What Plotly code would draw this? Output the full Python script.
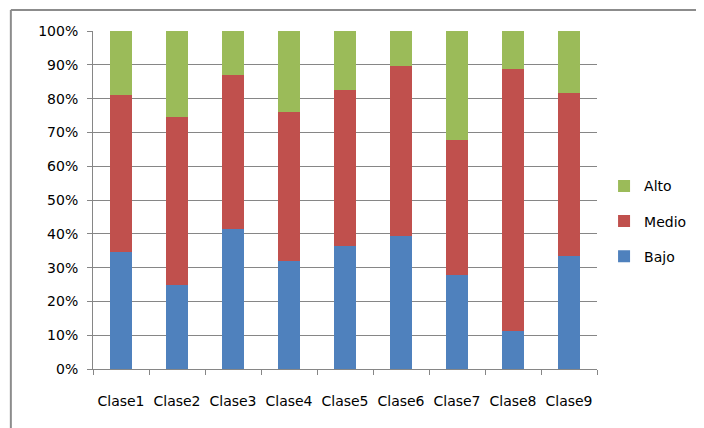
import plotly.graph_objects as go

categories = ["Clase1", "Clase2", "Clase3", "Clase4", "Clase5", "Clase6", "Clase7", "Clase8", "Clase9"]
bajo = [34.6, 25.0, 41.5, 32.0, 36.4, 39.4, 27.7, 11.1, 33.3]
medio = [46.6, 49.6, 45.4, 43.9, 46.1, 50.2, 40.0, 77.6, 48.3]
alto = [18.8, 25.4, 13.1, 24.1, 17.5, 10.4, 32.3, 11.3, 18.4]
y_ticks = [0, 10, 20, 30, 40, 50, 60, 70, 80, 90, 100]

series = [("Bajo", bajo, "#4F81BD", 3), ("Medio", medio, "#C0504D", 2), ("Alto", alto, "#9BBB59", 1)]

fig = go.Figure()
for name, vals, color, rank in series:
    fig.add_trace(go.Bar(x=categories, y=vals, name=name, marker_color=color,
                         marker_line_width=0, legendgroup=name, legendrank=rank))

font = dict(family="DejaVu Sans, Verdana, sans-serif", size=14, color="#000000")

fig.update_layout(
    width=704, height=428,
    barmode="stack", barnorm="percent", bargap=0.59,
    paper_bgcolor="white", plot_bgcolor="white",
    margin=dict(l=85, r=115, t=23, b=67),
    font=font,
    showlegend=True,
    legend=dict(x=1.014, y=0.437, xanchor="left", yanchor="middle",
                traceorder="grouped", tracegroupgap=14,
                font=dict(size=14), bgcolor="rgba(0,0,0,0)"),
    xaxis=dict(showline=True, linecolor="#868686", linewidth=1,
               ticks="outside", ticklen=5, tickcolor="#868686",
               tickson="boundaries", showgrid=False, tickangle=0,
               ticklabelstandoff=19,
               tickfont=dict(size=14)),
    yaxis=dict(range=[0, 100], tickvals=y_ticks,
               ticktext=[f"{v}%" for v in y_ticks],
               showline=True, linecolor="#868686", linewidth=1,
               ticks="outside", ticklen=5, tickcolor="#868686",
               showgrid=True, gridcolor="#868686", gridwidth=1,
               zeroline=False, ticklabelstandoff=6, tickfont=dict(size=14)),
)

# outer chart-area border (left and top edges visible)
fig.add_shape(type="line", xref="paper", yref="paper",
              x0=-0.163, x1=1.3, y0=1.062, y1=1.062,
              line=dict(color="#8C8C8C", width=2))
fig.add_shape(type="line", xref="paper", yref="paper",
              x0=-0.163, x1=-0.163, y0=-0.3, y1=1.062,
              line=dict(color="#8C8C8C", width=2))

fig.write_html("out.html")
